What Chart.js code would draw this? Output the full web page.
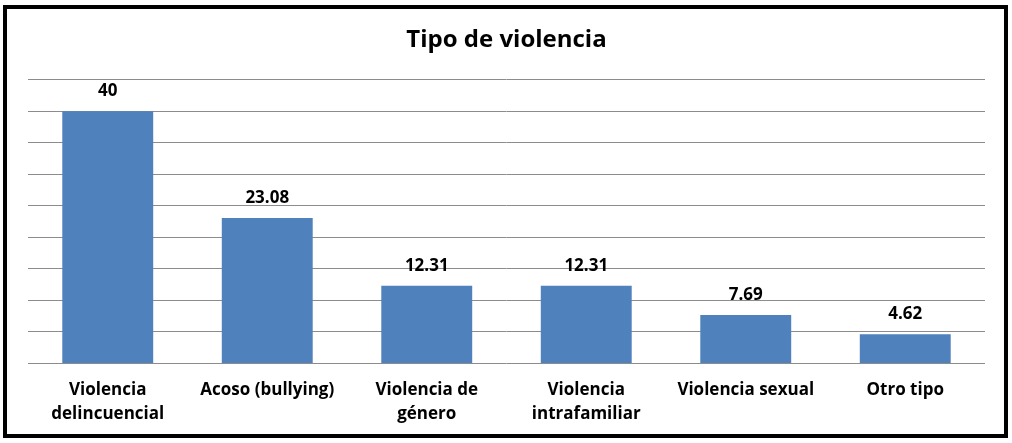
<!DOCTYPE html>
<html><head><meta charset="utf-8">
<script src="https://cdn.jsdelivr.net/npm/chart.js@4/dist/chart.umd.min.js"></script>
<style>
html,body{margin:0;padding:0;background:#fff;}
#wrap{position:absolute;left:0;top:0;width:1012px;height:443px;}
#frame{position:absolute;left:3px;top:5px;width:1005px;height:433px;border:4px solid #000;box-sizing:border-box;pointer-events:none;}
</style></head>
<body>
<div id="wrap"><canvas id="c" width="1012" height="443"></canvas></div>
<div id="frame"></div>
<script>
const categories = [["Violencia","delincuencial"],"Acoso (bullying)",["Violencia de","género"],["Violencia","intrafamiliar"],"Violencia sexual","Otro tipo"];
const values = [40, 23.08, 12.31, 12.31, 7.69, 4.62];
const valueLabels = ["40","23.08","12.31","12.31","7.69","4.62"];
const chartTitle = "Tipo de violencia";

const FONT = "'Open Sans', 'Liberation Sans', sans-serif";

const labelPlugin = {
  id: 'valueLabels',
  afterDatasetsDraw(chart) {
    const ctx = chart.ctx;
    const meta = chart.getDatasetMeta(0);
    ctx.save();
    ctx.font = "bold 17px " + FONT;
    ctx.fillStyle = "#000";
    ctx.textAlign = "center";
    ctx.textBaseline = "middle";
    meta.data.forEach((bar, i) => {
      ctx.fillText(valueLabels[i], bar.x, bar.y - 20);
    });
    ctx.restore();
  }
};

new Chart(document.getElementById('c'), {
  type: 'bar',
  data: {
    labels: categories,
    datasets: [{
      data: values,
      backgroundColor: '#4F81BD',
      barPercentage: 0.57,
      categoryPercentage: 1.0
    }]
  },
  options: {
    responsive: false,
    animation: false,
    layout: { padding: { left: 28, right: 27, top: 0, bottom: 2 } },
    plugins: {
      legend: { display: false },
      tooltip: { enabled: false },
      title: {
        display: true,
        text: chartTitle,
        color: '#000',
        font: { family: FONT, size: 24, weight: 'bold' },
        padding: { top: 26, bottom: 25 }
      }
    },
    scales: {
      x: {
        grid: { display: false, drawTicks: false },
        border: { display: false },
        ticks: {
          color: '#000',
          font: { family: FONT, size: 17, weight: 'bold', lineHeight: 1.4 },
          padding: 15,
          maxRotation: 0,
          autoSkip: false
        }
      },
      y: {
        min: 0, max: 45,
        ticks: { display: false, stepSize: 5 },
        grid: { color: '#8c8c8c', lineWidth: 1, drawTicks: false },
        border: { display: false }
      }
    }
  },
  plugins: [labelPlugin]
});
</script>
</body></html>
